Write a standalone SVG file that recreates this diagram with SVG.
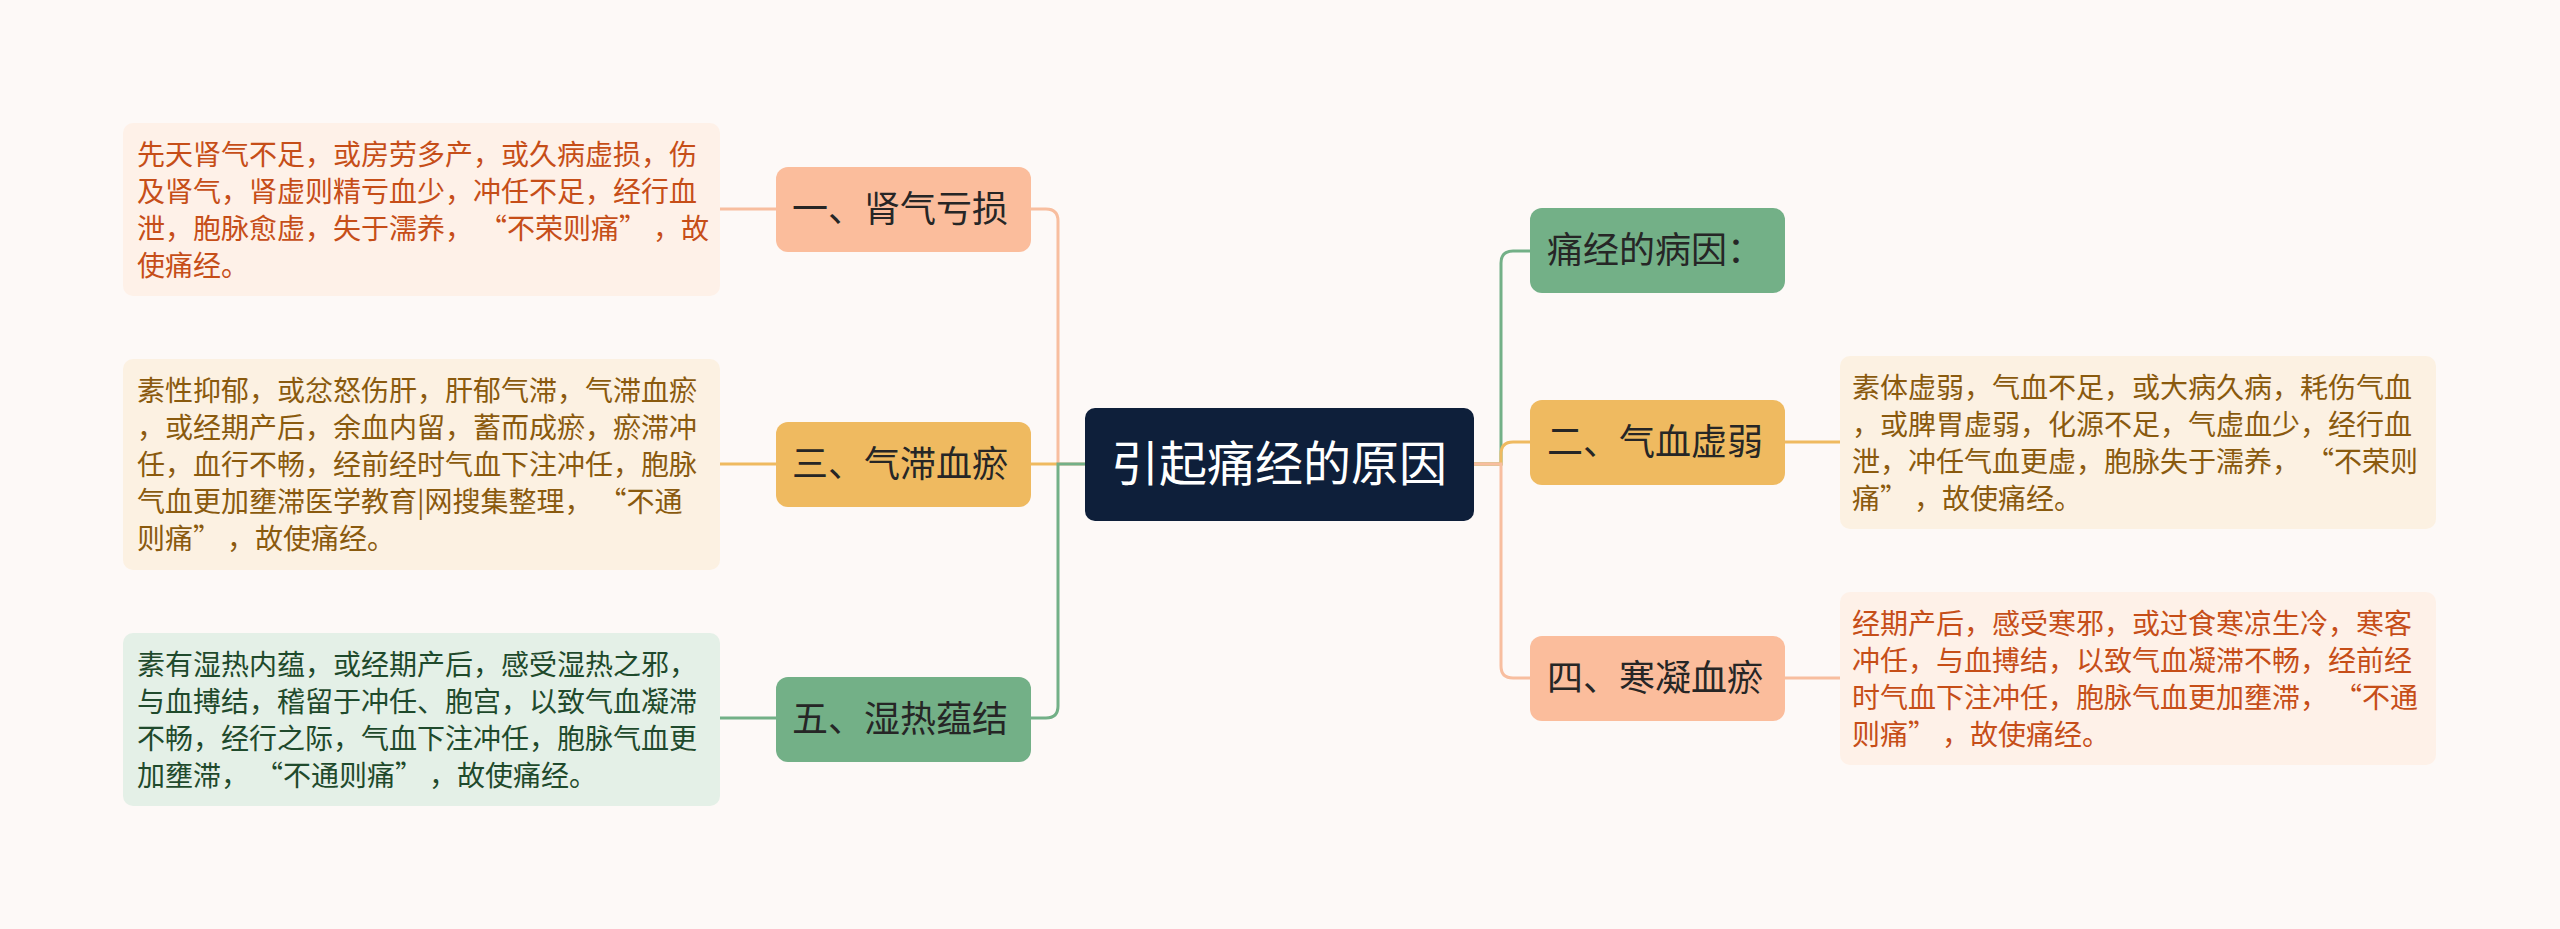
<svg xmlns="http://www.w3.org/2000/svg" width="2560" height="929" viewBox="0 0 2560 929">
<style>
text{font-family:"Noto Sans CJK SC","Noto Sans",sans-serif}
.leaf{font-size:28px}
.node{font-size:36px;fill:#262626}
.c-peach{stroke:#F8BE9F;stroke-width:3;fill:none}
.c-orange{stroke:#EFBA60;stroke-width:3;fill:none}
.c-green{stroke:#73B087;stroke-width:3;fill:none}
.t-red{fill:#C64E18}
.t-brown{fill:#8A5A0E}
.t-green{fill:#1F4A2C}
</style>
<rect x="0" y="0" width="2560" height="929" fill="#FDF9F7"/>
<g id="connectors">
<path class="c-peach" d="M1031,209 H1046 Q1058,209 1058,221 V464 H1085"/>
<path class="c-orange" d="M1031,464 H1058"/>
<path class="c-green" d="M1085,464 H1058 V706 Q1058,718 1046,718 H1031"/>
<path class="c-green" d="M1474,464 H1501 V263 Q1501,251 1513,251 H1530"/>
<path class="c-orange" d="M1474,464 H1501 V454 Q1501,442 1513,442 H1530"/>
<path class="c-peach" d="M1474,464 H1501 V666 Q1501,678 1513,678 H1530"/>
<path class="c-peach" d="M720,209 H776"/>
<path class="c-orange" d="M720,464 H776"/>
<path class="c-green" d="M720,718 H776"/>
<path class="c-orange" d="M1785,442 H1840"/>
<path class="c-peach" d="M1785,678 H1840"/>
</g>
<g id="center">
<rect x="1085" y="408" width="389" height="113" rx="10" fill="#0E1F3A"/>
<text x="1111" y="481" font-size="48" fill="#FFFFFF">引起痛经的原因</text>
</g>
<g id="n1">
<rect x="776" y="167" width="255" height="85" rx="12" fill="#FBBD9C"/>
<text class="node" x="792" y="222">一、肾气亏损</text>
</g>
<g id="n3">
<rect x="776" y="422" width="255" height="85" rx="12" fill="#EFBA60"/>
<text class="node" x="792" y="477">三、气滞血瘀</text>
</g>
<g id="n5">
<rect x="776" y="677" width="255" height="85" rx="12" fill="#73B087"/>
<text class="node" x="792" y="732">五、湿热蕴结</text>
</g>
<g id="n0">
<rect x="1530" y="208" width="255" height="85" rx="12" fill="#73B087"/>
<text class="node" x="1547" y="263">痛经的病因：</text>
</g>
<g id="n2">
<rect x="1530" y="400" width="255" height="85" rx="12" fill="#EFBA60"/>
<text class="node" x="1547" y="455">二、气血虚弱</text>
</g>
<g id="n4">
<rect x="1530" y="636" width="255" height="85" rx="12" fill="#FBBD9C"/>
<text class="node" x="1547" y="691">四、寒凝血瘀</text>
</g>
<g id="leaf1">
<rect x="123" y="123" width="597" height="173" rx="10" fill="#FEF1E8"/>
<text class="leaf t-red"><tspan x="137" y="165">先天肾气不足，或房劳多产，或久病虚损，伤</tspan><tspan x="137" y="202">及肾气，肾虚则精亏血少，冲任不足，经行血</tspan><tspan x="137" y="239">泄，胞脉愈虚，失于濡养，<tspan dx="20">“</tspan>不荣则痛”<tspan dx="20">，</tspan>故</tspan><tspan x="137" y="276">使痛经。</tspan></text>
</g>
<g id="leaf3">
<rect x="123" y="359" width="597" height="211" rx="10" fill="#FCF1E2"/>
<text class="leaf t-brown"><tspan x="137" y="401">素性抑郁，或忿怒伤肝，肝郁气滞，气滞血瘀</tspan><tspan x="137" y="438">，或经期产后，余血内留，蓄而成瘀，瘀滞冲</tspan><tspan x="137" y="475">任，血行不畅，经前经时气血下注冲任，胞脉</tspan><tspan x="137" y="512">气血更加壅滞医学教育|网搜集整理，<tspan dx="20">“</tspan>不通</tspan><tspan x="137" y="549">则痛”<tspan dx="20">，</tspan>故使痛经。</tspan></text>
</g>
<g id="leaf5">
<rect x="123" y="633" width="597" height="173" rx="10" fill="#E4F0E7"/>
<text class="leaf t-green"><tspan x="137" y="675">素有湿热内蕴，或经期产后，感受湿热之邪，</tspan><tspan x="137" y="712">与血搏结，稽留于冲任、胞宫，以致气血凝滞</tspan><tspan x="137" y="749">不畅，经行之际，气血下注冲任，胞脉气血更</tspan><tspan x="137" y="786">加壅滞，<tspan dx="20">“</tspan>不通则痛”<tspan dx="20">，</tspan>故使痛经。</tspan></text>
</g>
<g id="leaf2">
<rect x="1840" y="356" width="596" height="173" rx="10" fill="#FCF1E2"/>
<text class="leaf t-brown"><tspan x="1852" y="398">素体虚弱，气血不足，或大病久病，耗伤气血</tspan><tspan x="1852" y="435">，或脾胃虚弱，化源不足，气虚血少，经行血</tspan><tspan x="1852" y="472">泄，冲任气血更虚，胞脉失于濡养，<tspan dx="20">“</tspan>不荣则</tspan><tspan x="1852" y="509">痛”<tspan dx="20">，</tspan>故使痛经。</tspan></text>
</g>
<g id="leaf4">
<rect x="1840" y="592" width="596" height="173" rx="10" fill="#FEF1E8"/>
<text class="leaf t-red"><tspan x="1852" y="634">经期产后，感受寒邪，或过食寒凉生冷，寒客</tspan><tspan x="1852" y="671">冲任，与血搏结，以致气血凝滞不畅，经前经</tspan><tspan x="1852" y="708">时气血下注冲任，胞脉气血更加壅滞，<tspan dx="20">“</tspan>不通</tspan><tspan x="1852" y="745">则痛”<tspan dx="20">，</tspan>故使痛经。</tspan></text>
</g>
</svg>
